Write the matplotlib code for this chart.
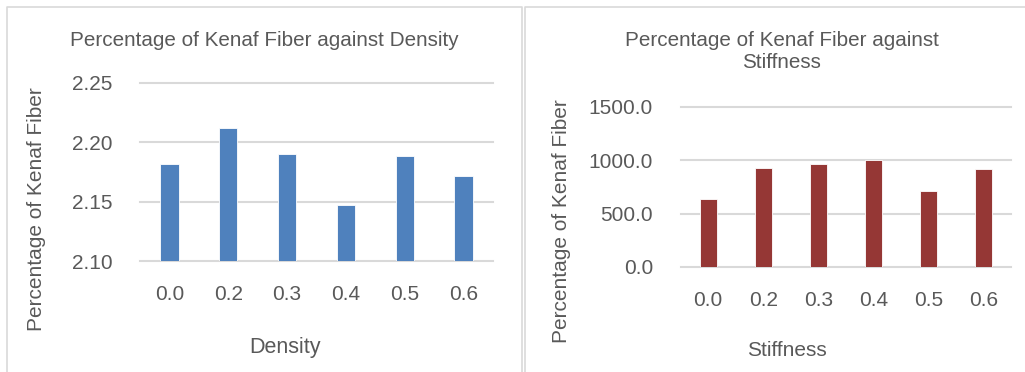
import matplotlib
matplotlib.use("Agg")
import matplotlib.pyplot as plt
from matplotlib.lines import Line2D

plt.rcParams['font.family'] = ['Liberation Sans', 'DejaVu Sans']

# Data
categories = ["0.0", "0.2", "0.3", "0.4", "0.5", "0.6"]
density_values = [2.182, 2.212, 2.190, 2.147, 2.189, 2.172]
stiffness_values = [640.0, 930.0, 964.0, 1002.0, 709.0, 915.0]
density_ticks = [2.10, 2.15, 2.20, 2.25]
stiffness_ticks = [0.0, 500.0, 1000.0, 1500.0]

TEXT = "#595959"
GRID = "#D9D9D9"
BLUE = "#4F81BD"
RED = "#953735"

W, H = 1025, 372
fig = plt.figure(figsize=(W / 100, H / 100), dpi=100)
fig.patch.set_facecolor("white")


def px_axes(x0, y0, x1, y1):
    return fig.add_axes([x0 / W, 1 - y1 / H, (x1 - x0) / W, (y1 - y0) / H])


def style(ax, ticks, fmt, ylim, ypad, xpad):
    ax.set_xlim(-0.5, len(categories) - 0.5)
    ax.set_ylim(*ylim)
    ax.set_yticks(ticks)
    ax.set_yticklabels([fmt.format(t) for t in ticks])
    ax.set_xticks(range(len(categories)))
    ax.set_xticklabels(categories)
    for s in ax.spines.values():
        s.set_visible(False)
    ax.tick_params(axis="both", length=0, labelsize=15, labelcolor=TEXT)
    ax.tick_params(axis="y", pad=ypad)
    ax.tick_params(axis="x", pad=xpad)
    ax.set_axisbelow(True)
    ax.yaxis.grid(True, color=GRID, linewidth=1.5)
    for gl in ax.get_ygridlines():
        gl.set_clip_on(False)


# Left chart: density
ax1 = px_axes(140, 83, 493, 261.3)
ax1.bar(range(len(categories)), density_values, width=0.31, color=BLUE,
        edgecolor="white", linewidth=0.6)
style(ax1, density_ticks, "{:.2f}", (2.10, 2.25), 20, 17)

# Right chart: stiffness
ax2 = px_axes(680.7, 106.7, 1010.7, 267)
ax2.bar(range(len(categories)), stiffness_values, width=0.315, color=RED,
        edgecolor="white", linewidth=0.6)
style(ax2, stiffness_ticks, "{:.1f}", (0, 1500), 20, 17)

# Titles and axis labels
def ftext(x, y, s, **kw):
    fig.text(x / W, 1 - y / H, s, color=TEXT, ha="center", va="center", **kw)

ftext(264, 40, "Percentage of Kenaf Fiber against Density", fontsize=14.9)
ftext(781.7, 51.5, "Percentage of Kenaf Fiber against\nStiffness", fontsize=14.9,
      linespacing=1.2)
ftext(37, 209, "Percentage of Kenaf Fiber", fontsize=15, rotation=90)
ftext(561.7, 221, "Percentage of Kenaf Fiber", fontsize=15, rotation=90)
ftext(285, 348, "Density", fontsize=15.5)
ftext(786.7, 351, "Stiffness", fontsize=15)

# Chart frames
def fline(xs, ys):
    fig.add_artist(Line2D([x / W for x in xs], [1 - y / H for y in ys],
                          color=GRID, linewidth=1.2))

fline([6.5, 6.5, 522, 522], [380, 7, 7, 380])
fline([525, 525, 1030], [380, 7, 7])

fig.savefig("out.png", dpi=100, facecolor="white")
